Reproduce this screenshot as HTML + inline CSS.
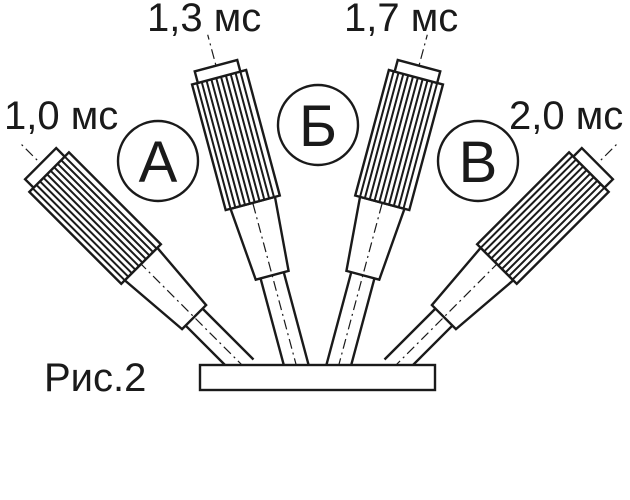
<!DOCTYPE html>
<html><head><meta charset="utf-8"><style>
html,body{margin:0;padding:0;background:#fff;}
svg{display:block;}
text{font-family:"Liberation Sans",sans-serif;fill:#1a1a1a;}
</style></head><body>
<svg width="630" height="500" viewBox="0 0 630 500">
<defs>
<g id="head" fill="#fff" stroke="#1a1a1a" stroke-width="2.4">
  <polygon points="-17,0 17,0 23,-75 -23,-75" fill="none"/>
  <rect x="-28" y="-205" width="56" height="130"/>
  <g stroke-width="2">
    <line x1="-23" y1="-205" x2="-23" y2="-75"/><line x1="-18" y1="-205" x2="-18" y2="-75"/>
    <line x1="-13" y1="-205" x2="-13" y2="-75"/><line x1="-8" y1="-205" x2="-8" y2="-75"/>
    <line x1="-3" y1="-205" x2="-3" y2="-75"/><line x1="2" y1="-205" x2="2" y2="-75"/>
    <line x1="7" y1="-205" x2="7" y2="-75"/><line x1="12" y1="-205" x2="12" y2="-75"/>
    <line x1="17" y1="-205" x2="17" y2="-75"/><line x1="22" y1="-205" x2="22" y2="-75"/>
  </g>
  <rect x="-22" y="-217" width="44" height="12"/>
</g>
</defs>
<g stroke="#1a1a1a" stroke-width="2.4" fill="none">
  <g transform="translate(245,368) rotate(-45)">
    <line x1="0" y1="0" x2="0" y2="-320" stroke-width="1.2" stroke-dasharray="10,4,2,4"/>
    <line x1="-12" y1="0" x2="-12" y2="-72"/><line x1="12" y1="0" x2="12" y2="-72"/>
    <g transform="translate(0,-72)"><use href="#head"/></g>
  </g>
  <g transform="translate(297,368) rotate(-15)">
    <line x1="0" y1="0" x2="0" y2="-345" stroke-width="1.2" stroke-dasharray="10,4,2,4"/>
    <line x1="-12" y1="0" x2="-12" y2="-96"/><line x1="12" y1="0" x2="12" y2="-96"/>
    <g transform="translate(0,-96)"><use href="#head"/></g>
  </g>
  <g transform="translate(338,368) rotate(15)">
    <line x1="0" y1="0" x2="0" y2="-345" stroke-width="1.2" stroke-dasharray="10,4,2,4"/>
    <line x1="-12" y1="0" x2="-12" y2="-96"/><line x1="12" y1="0" x2="12" y2="-96"/>
    <g transform="translate(0,-96)"><use href="#head"/></g>
  </g>
  <g transform="translate(393,368) rotate(45)">
    <line x1="0" y1="0" x2="0" y2="-320" stroke-width="1.2" stroke-dasharray="10,4,2,4"/>
    <line x1="-12" y1="0" x2="-12" y2="-72"/><line x1="12" y1="0" x2="12" y2="-72"/>
    <g transform="translate(0,-72)"><use href="#head"/></g>
  </g>
  <rect x="200" y="365" width="235" height="25" fill="#fff"/>
  <circle cx="158" cy="161" r="40" fill="#fff"/>
  <circle cx="318" cy="125" r="40" fill="#fff"/>
  <circle cx="478" cy="161" r="40" fill="#fff"/>
</g>
<text x="158" y="182" font-size="58" text-anchor="middle">А</text>
<text x="318" y="146" font-size="58" text-anchor="middle">Б</text>
<text x="478" y="182" font-size="58" text-anchor="middle">В</text>
<text x="4" y="129" font-size="40">1,0 мс</text>
<text x="147" y="31" font-size="40">1,3 мс</text>
<text x="344" y="31" font-size="40">1,7 мс</text>
<text x="509" y="129" font-size="40">2,0 мс</text>
<text x="44" y="391" font-size="40">Рис.2</text>
</svg>
</body></html>
